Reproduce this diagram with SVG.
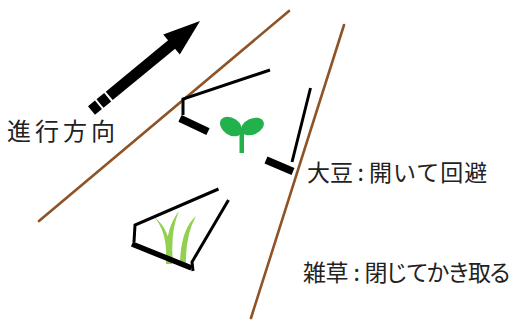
<svg xmlns="http://www.w3.org/2000/svg" width="520" height="320" viewBox="0 0 520 320">
  <style>
    .edge { stroke: #8f5326; stroke-width: 2.6; stroke-linecap: round; fill: none; }
    .frame { stroke: #000; stroke-width: 3; fill: none; stroke-linejoin: miter; }
    .blade { stroke: #000; stroke-linecap: butt; }
    .label { font-family: "Noto Sans CJK JP", "Noto Sans", sans-serif; fill: #222; }
    .sprout { fill: #22b14c; }
    .grass { fill: #92d050; }
  </style>
  <rect width="520" height="320" fill="#fff"/>

  <!-- row edges -->
  <g id="row-edges">
    <line class="edge" x1="39" y1="221" x2="289" y2="11"/>
    <line class="edge" x1="344" y1="25" x2="251" y2="318"/>
  </g>

  <!-- direction arrow -->
  <g id="direction-arrow" transform="translate(91.5,110.5) rotate(-39.5)">
    <rect x="0" y="-5.5" width="9" height="11" fill="#000"/>
    <rect x="11" y="-5.5" width="10" height="11" fill="#000"/>
    <rect x="23" y="-5.5" width="82" height="11" fill="#000"/>
    <polygon points="103.7,-13 140.6,0 103.7,13" fill="#000"/>
  </g>
  <g id="direction-label">
    <text class="label" x="7" y="140" font-size="24" letter-spacing="4">進行方向</text>
  </g>

  <!-- soybean -->
  <g id="soybean">
    <ellipse class="sprout" cx="231" cy="126.5" rx="12" ry="8.5" transform="rotate(35 231 126.5)"/>
    <ellipse class="sprout" cx="252.5" cy="126.5" rx="12" ry="8" transform="rotate(-25 252.5 126.5)"/>
    <rect class="sprout" x="239.5" y="131" width="4.5" height="22"/>
  </g>

  <!-- weeds -->
  <g id="weed">
    <path class="grass" d="M154,217 Q168,232 166,264 L172,264 Q172,230 154,217 Z"/>
    <path class="grass" d="M179,211 Q164,230 167,262 L173,262 Q170,232 179,211 Z"/>
    <path class="grass" d="M196,216 Q180,230 180,266 L186,266 Q185,236 196,216 Z"/>
  </g>

  <!-- upper implement: opened around the soybean -->
  <g id="implement-open">
    <polyline class="frame" points="270,70 183,99 183,115"/>
    <line class="blade" x1="180" y1="118.3" x2="208" y2="131.7" stroke-width="7.5"/>
    <polyline class="frame" points="310.5,88 292,162"/>
    <line class="blade" x1="266" y1="160" x2="293" y2="171.5" stroke-width="7.5"/>
  </g>

  <!-- lower implement: closed over the weeds -->
  <g id="implement-closed">
    <polyline class="frame" points="218.5,189 135,225 134,242"/>
    <polyline class="frame" points="228.5,200 192,262 193,271"/>
    <line class="blade" x1="132" y1="244" x2="191.5" y2="268" stroke-width="5.5"/>
  </g>

  <!-- labels -->
  <g id="label-soybean">
    <text class="label" x="307" y="181" font-size="23">大豆<tspan dx="4.5">:</tspan><tspan dx="5" letter-spacing="1">開いて回避</tspan></text>
  </g>
  <g id="label-weed">
    <text class="label" x="303" y="281" font-size="23" letter-spacing="-0.5">雑草<tspan dx="5.5">:</tspan><tspan dx="5" letter-spacing="-2.3">閉じてかき取る</tspan></text>
  </g>
</svg>
